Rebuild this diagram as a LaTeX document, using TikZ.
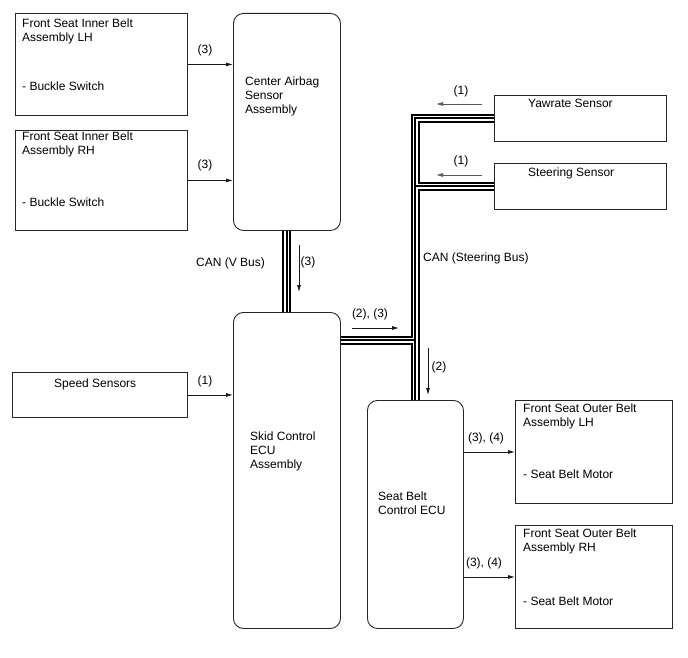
\documentclass[tikz,border=0pt]{standalone}
\usepackage{fontspec}
\setmainfont{Liberation Sans}
\usetikzlibrary{arrows.meta,calc}
\begin{document}
\begin{tikzpicture}[x=1pt,y=-1pt,
  box/.style={draw=black!85,line width=0.9pt,inner sep=0,anchor=north west},
  rbox/.style={box,rounded corners=10pt},
  txt/.style={inner sep=0,anchor=north west,align=left,font=\fontsize{12}{14}\selectfont},
  lbl/.style={inner sep=0,font=\fontsize{12}{14}\selectfont},
  arr/.style={-{Latex[length=7pt,width=4pt]},line width=0.8pt,draw=black!90},
  garr/.style={-{Latex[length=7pt,width=4pt]},line width=0.8pt,draw=black!65}]
\useasboundingbox[fill=white] (0,0) rectangle (688,658);
% boxes
\node[box,minimum width=172pt,minimum height=102pt] (inLH) at (15,13) {};
\node[box,minimum width=172pt,minimum height=100pt] (inRH) at (15,130) {};
\node[rbox,minimum width=107pt,minimum height=217pt] (airbag) at (233,13) {};
\node[box,minimum width=175pt,minimum height=45pt] (speed) at (12,372) {};
\node[rbox,minimum width=107pt,minimum height=316pt] (skid) at (233,312) {};
\node[box,minimum width=172pt,minimum height=46pt] (yaw) at (494,95) {};
\node[box,minimum width=172pt,minimum height=46pt] (steer) at (494,163) {};
\node[rbox,minimum width=96pt,minimum height=228pt] (sbecu) at (367,400) {};
\node[box,minimum width=157pt,minimum height=103pt] (outLH) at (515,400) {};
\node[box,minimum width=157pt,minimum height=103pt] (outRH) at (515,525) {};
% texts
\node[txt] (tinLH) at (22,19) {Front Seat Inner Belt\\Assembly LH};
\node[txt] (binLH) at (22,82) {- Buckle Switch};
\node[txt] (tinRH) at (22,132) {Front Seat Inner Belt\\Assembly RH};
\node[txt] (binRH) at (22,198) {- Buckle Switch};
\node[txt] (tair) at (245,77) {Center Airbag\\Sensor\\Assembly};
\node[txt] (tyaw) at (528,99) {Yawrate Sensor};
\node[txt] (tsteer) at (528,168) {Steering Sensor};
\node[txt] (tspeed) at (54,379) {Speed Sensors};
\node[txt] (tskid) at (250,432) {Skid Control\\ECU\\Assembly};
\node[txt] (tsb) at (378,492) {Seat Belt\\Control ECU};
\node[txt] (toutLH) at (523,404) {Front Seat Outer Belt\\Assembly LH};
\node[txt] (moutLH) at (523,470) {- Seat Belt Motor};
\node[txt] (toutRH) at (523,529) {Front Seat Outer Belt\\Assembly RH};
\node[txt] (moutRH) at (523,597) {- Seat Belt Motor};
% buses
\coordinate (busj) at (415,340);
\foreach \w/\c in {9/black,5/white,2/black}{
  \draw[line width=\w pt,\c] (airbag.south) -- (skid.north)
    (yaw.west) -| (sbecu.north)
    (steer.west) -- (steer.west -| sbecu.north)
    (skid.east |- busj) -- (busj);
}
% connectors
\draw[arr] (inLH.east) -- (inLH.east -| airbag.west);
\draw[arr] (inRH.east) -- (inRH.east -| airbag.west);
\draw[arr] (speed.east) -- (speed.east -| skid.west);
\draw[arr] (outLH.west -| sbecu.east) -- (outLH.west);
\draw[arr] (outRH.west -| sbecu.east) -- (outRH.west);
% annotation arrows
\coordinate (a1s) at (299,245); \coordinate (a1e) at (299,292);
\coordinate (a2s) at (352,328); \coordinate (a2e) at (399,328);
\coordinate (a3s) at (428,348); \coordinate (a3e) at (428,395);
\coordinate (a4s) at (482,104); \coordinate (a4e) at (436,104);
\coordinate (a5s) at (482,175); \coordinate (a5e) at (436,175);
\draw[arr] (a1s) -- (a1e);
\draw[arr] (a2s) -- (a2e);
\draw[arr] (a3s) -- (a3e);
\draw[garr] (a4s) -- (a4e);
\draw[garr] (a5s) -- (a5e);
% labels
\node[lbl] (l1) at (205,50) {(3)};
\node[lbl] (l2) at (205,165) {(3)};
\node[lbl] (l3) at (205,381) {(1)};
\node[lbl] (l4) at (461,91) {(1)};
\node[lbl] (l5) at (461,161) {(1)};
\node[lbl] (l6) at (308,262) {(3)};
\node[lbl] (l7) at (370,314) {(2), (3)};
\node[lbl] (l8) at (439,367) {(2)};
\node[lbl] (l9) at (486,438) {(3), (4)};
\node[lbl] (l10) at (484,563) {(3), (4)};
\node[lbl,anchor=east] (cv) at (265,263) {CAN (V Bus)};
\node[lbl,anchor=west] (cs) at (423,258) {CAN (Steering Bus)};
\end{tikzpicture}
\end{document}
